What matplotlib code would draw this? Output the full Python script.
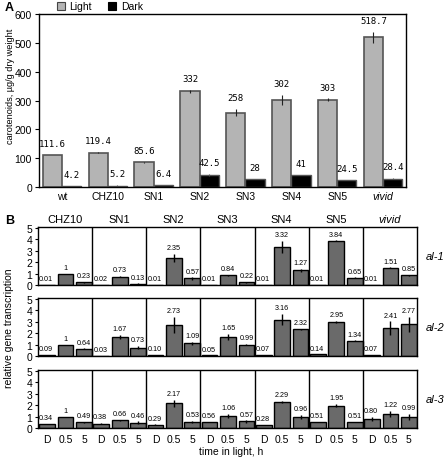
import matplotlib
matplotlib.use("Agg")
import matplotlib.pyplot as plt
import numpy as np

plt.rcParams["font.family"] = ["Liberation Sans", "DejaVu Sans"]

# ---- panel A data
strains_a = ["wt", "CHZ10", "SN1", "SN2", "SN3", "SN4", "SN5", "vivid"]
light_vals = [111.6, 119.4, 85.6, 332, 258, 302, 303, 518.7]
light_err = [1, 1, 1, 6, 12, 16, 4, 18]
dark_vals = [4.2, 5.2, 6.4, 42.5, 28, 41, 24.5, 28.4]
dark_err = [0.5, 0.5, 0.5, 3, 1, 1, 1, 2]
light_labels = ["111.6", "119.4", "85.6", "332", "258", "302", "303", "518.7"]
dark_labels = ["4.2", "5.2", "6.4", "42.5", "28", "41", "24.5", "28.4"]

# ---- panel B data
strains_b = ["CHZ10", "SN1", "SN2", "SN3", "SN4", "SN5", "vivid"]
timepoints = ["D", "0.5", "5"]
genes = ["al-1", "al-2", "al-3"]

al1_vals = [[0.01, 1, 0.23], [0.02, 0.73, 0.13], [0.01, 2.35, 0.57], [0.01, 0.84, 0.22],
            [0.01, 3.32, 1.27], [0.01, 3.84, 0.65], [0.01, 1.51, 0.85]]
al1_err = [[0, 0, 0.02], [0, 0.03, 0.01], [0, 0.35, 0.1], [0, 0.02, 0.02],
           [0, 0.55, 0.1], [0, 0.05, 0.02], [0, 0.02, 0.06]]
al1_labels = [["0.01", "1", "0.23"], ["0.02", "0.73", "0.13"], ["0.01", "2.35", "0.57"],
              ["0.01", "0.84", "0.22"], ["0.01", "3.32", "1.27"], ["0.01", "3.84", "0.65"],
              ["0.01", "1.51", "0.85"]]

al2_vals = [[0.09, 1, 0.64], [0.03, 1.67, 0.73], [0.10, 2.73, 1.09], [0.05, 1.65, 0.99],
            [0.07, 3.16, 2.32], [0.14, 2.95, 1.34], [0.07, 2.41, 2.77]]
al2_err = [[0, 0, 0.02], [0, 0.15, 0.15], [0, 0.7, 0.12], [0, 0.25, 0.05],
           [0, 0.5, 0.02], [0, 0.12, 0.02], [0, 0.6, 0.65]]
al2_labels = [["0.09", "1", "0.64"], ["0.03", "1.67", "0.73"], ["0.10", "2.73", "1.09"],
              ["0.05", "1.65", "0.99"], ["0.07", "3.16", "2.32"], ["0.14", "2.95", "1.34"],
              ["0.07", "2.41", "2.77"]]

al3_vals = [[0.34, 1, 0.49], [0.38, 0.66, 0.46], [0.29, 2.17, 0.53], [0.56, 1.06, 0.57],
            [0.28, 2.29, 0.96], [0.51, 1.95, 0.51], [0.80, 1.22, 0.99]]
al3_err = [[0, 0, 0.02], [0.05, 0.08, 0.12], [0.02, 0.3, 0.12], [0, 0.15, 0.1],
           [0, 0.1, 0.2], [0, 0.15, 0], [0.2, 0.25, 0.25]]
al3_labels = [["0.34", "1", "0.49"], ["0.38", "0.66", "0.46"], ["0.29", "2.17", "0.53"],
              ["0.56", "1.06", "0.57"], ["0.28", "2.29", "0.96"], ["0.51", "1.95", "0.51"],
              ["0.80", "1.22", "0.99"]]

W, H = 446, 460


def px_axes(fig, left, top, right, bottom):
    return fig.add_axes([left / W, 1 - bottom / H, (right - left) / W, (bottom - top) / H])


fig = plt.figure(figsize=(W / 100, H / 100), dpi=100)

# ================= panel A
ax = px_axes(fig, 39, 15, 406, 188)
x = np.arange(len(strains_a)) + 0.5
bw = 0.42
ax.bar(x - bw / 2, light_vals, bw, color="#b4b4b4", edgecolor="#555555", linewidth=1.2,
       yerr=light_err, error_kw=dict(ecolor="#222222", elinewidth=0.8, capsize=0))
ax.bar(x + bw / 2, dark_vals, bw, color="black", edgecolor="#555555", linewidth=1.0,
       yerr=dark_err, error_kw=dict(ecolor="#555555", elinewidth=0.8, capsize=0))
for xi, v, e, lab in zip(x, light_vals, light_err, light_labels):
    ax.annotate(lab, (xi - bw / 2, v + e), xytext=(0, 5), textcoords="offset points",
                ha="center", va="bottom", fontsize=6.5, family="DejaVu Sans Mono")
for xi, v, e, lab in zip(x, dark_vals, dark_err, dark_labels):
    ax.annotate(lab, (xi + bw / 2, v + e), xytext=(0, 5), textcoords="offset points",
                ha="center", va="bottom", fontsize=6.5, family="DejaVu Sans Mono")
ax.set_xlim(0, len(strains_a))
ax.set_ylim(0, 600)
ax.set_yticks(range(0, 601, 100))
ax.set_xticks(x)
ax.set_xticklabels(strains_a)
ax.get_xticklabels()[-1].set_style("italic")
ax.tick_params(axis="x", length=0, labelsize=7.5, pad=3)
ax.tick_params(axis="y", length=3, labelsize=7.5, pad=2)
ax.set_ylabel("carotenoids, \u00b5g/g dry weight", fontsize=6.6)
ax.yaxis.set_label_coords(-0.066, 0.585)
for sp in ax.spines.values():
    sp.set_linewidth(1.0)

# legend
fig.text(5 / W, 1 - 8 / H, "A", fontsize=9, fontweight="bold", va="center")
fig.patches.append(plt.Rectangle((57 / W, 1 - 10.5 / H), 8 / W, 8 / H, transform=fig.transFigure,
                                 facecolor="#b4b4b4", edgecolor="#444444", linewidth=0.8))
fig.text(69 / W, 1 - 6.5 / H, "Light", fontsize=7.5, va="center")
fig.patches.append(plt.Rectangle((108 / W, 1 - 10.5 / H), 8 / W, 8 / H, transform=fig.transFigure,
                                 facecolor="black", edgecolor="black", linewidth=0.8))
fig.text(121 / W, 1 - 6.5 / H, "Dark", fontsize=7.5, va="center")

# ================= panel B
rows = [(al1_vals, al1_err, al1_labels), (al2_vals, al2_err, al2_labels),
        (al3_vals, al3_err, al3_labels)]
row_tops = [228, 299, 371]
row_h = 58
ng = len(strains_b)
offs = np.array([0.17, 0.51, 0.85])
bwb = 0.29
axes_b = []
for r, (vals, errs, labs) in enumerate(rows):
    axb = px_axes(fig, 38, row_tops[r], 417, row_tops[r] + row_h)
    axes_b.append(axb)
    vals = np.array(vals)
    errs = np.array(errs)
    for j, off in enumerate(offs):
        xs = np.arange(ng) + off
        axb.bar(xs, vals[:, j], bwb, color="#6a6a6a", edgecolor="black", linewidth=1.0,
                yerr=errs[:, j], error_kw=dict(ecolor="black", elinewidth=1.0, capsize=0),
                zorder=2)
        for g in range(ng):
            top = vals[g, j] + errs[g, j]
            if j == 0:
                axb.annotate(labs[g][j], (xs[g] - 0.02, max(top, 0.05)), xytext=(0, 2),
                             textcoords="offset points", ha="center", va="bottom",
                             fontsize=5.2)
            else:
                axb.annotate(labs[g][j], (xs[g], top), xytext=(0, 2),
                             textcoords="offset points", ha="center", va="bottom",
                             fontsize=5.2)
    for g in range(1, ng):
        axb.axvline(g, color="black", linewidth=1.0, zorder=3)
    axb.set_xlim(0, ng)
    axb.set_ylim(0, 5.05)
    axb.set_yticks(range(0, 6))
    axb.tick_params(axis="y", length=2.5, labelsize=7.5, pad=1.5)
    for sp in axb.spines.values():
        sp.set_linewidth(1.0)
    axb.text(1.022, 0.5, genes[r], transform=axb.transAxes, fontsize=8, style="italic",
             va="center", ha="left")
    if r < 2:
        axb.set_xticks([])
    else:
        ticks = (np.arange(ng)[:, None] + offs[None, :]).ravel()
        axb.set_xticks(ticks)
        axb.set_xticklabels(timepoints * ng)
        axb.tick_params(axis="x", length=0, labelsize=7.5, pad=4)

top_ax = axes_b[0]
for g, name in enumerate(strains_b):
    top_ax.annotate(name, (g + 0.5, 1.0), xycoords=top_ax.get_xaxis_transform(),
                    xytext=(0, 2), textcoords="offset points", ha="center", va="bottom",
                    fontsize=8, style="italic" if name == "vivid" else "normal")

fig.text(5 / W, 1 - 221 / H, "B", fontsize=9, fontweight="bold", va="center")
fig.text(9 / W, 1 - 328 / H, "relative gene transcription", fontsize=7.5, rotation=90,
         ha="center", va="center")
fig.text(231 / W, 1 - 452 / H, "time in light, h", fontsize=7.5, ha="center", va="center")

fig.savefig("out.png", dpi=100)
